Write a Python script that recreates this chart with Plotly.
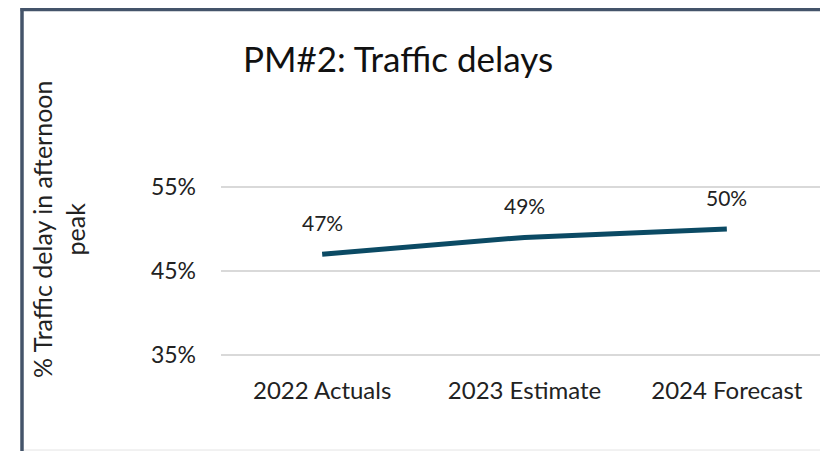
import plotly.graph_objects as go

# data
categories = ["2022 Actuals", "2023 Estimate", "2024 Forecast"]
values = [47, 49, 50]
value_labels = ["47%", "49%", "50%"]
y_ticks = [35, 45, 55]
y_tick_text = ["35%", "45%", "55%"]

W, H = 828, 451
FONT = "Lato, Open Sans, sans-serif"
# the page puts the figure 8px in from the top-left corner
OFF = 8


def px(x):
    return (x - OFF) / W


def py(y):
    return 1 - (y - OFF) / H


fig = go.Figure()
fig.add_trace(go.Scatter(
    x=categories, y=values,
    mode="lines",
    line=dict(color="#0B4A64", width=5),
    hoverinfo="skip",
    showlegend=False,
))

# data labels above each point
for c, v, t in zip(categories, values, value_labels):
    fig.add_annotation(x=c, y=v, text=t, showarrow=False, yshift=32,
                       font=dict(family=FONT, size=21, color="#222222"))

# title
fig.add_annotation(xref="paper", yref="paper", x=px(398), y=py(58),
                   text="PM#2: Traffic delays", showarrow=False,
                   xanchor="center", yanchor="middle",
                   font=dict(family=FONT, size=35, color="#111111"))

# y axis title
fig.add_annotation(xref="paper", yref="paper", x=px(59), y=py(230),
                   text="% Traffic delay in afternoon<br>peak", showarrow=False,
                   textangle=-90, xanchor="center", yanchor="middle",
                   font=dict(family=FONT, size=25, color="#222222"))

# chart frame
fig.add_shape(type="line", xref="paper", yref="paper",
              x0=px(22), x1=px(22), y0=0, y1=py(8),
              line=dict(color="#44546A", width=3.5))
fig.add_shape(type="line", xref="paper", yref="paper",
              x0=px(20.5), x1=1, y0=py(9.5), y1=py(9.5),
              line=dict(color="#44546A", width=3.5))
fig.add_shape(type="line", xref="paper", yref="paper",
              x0=px(24), x1=1, y0=py(450), y1=py(450),
              line=dict(color="#E4E4E4", width=1))

# pad the range a little so the 35% and 55% gridlines are drawn
px_per_pct = (355 - 187) / 20
pad = 3 / px_per_pct
fig.update_layout(
    width=W, height=H,
    margin=dict(l=0, r=0, t=0, b=0),
    paper_bgcolor="white", plot_bgcolor="white",
    xaxis=dict(
        domain=[px(221), px(828)],
        range=[-0.5, 2.5],
        automargin=False,
        showgrid=False, zeroline=False, showline=False,
        ticks="", ticklabelstandoff=16,
        tickfont=dict(family=FONT, size=24, color="#222222"),
    ),
    yaxis=dict(
        domain=[py(358), py(184)],
        range=[35 - pad, 55 + pad],
        automargin=False,
        tickvals=y_ticks,
        ticktext=y_tick_text,
        showgrid=True, gridcolor="#D9D9D9", gridwidth=1.5,
        zeroline=False, showline=False, ticks="",
        ticklabelstandoff=24,
        tickfont=dict(family=FONT, size=23, color="#222222"),
    ),
)

fig.write_html("out.html")
